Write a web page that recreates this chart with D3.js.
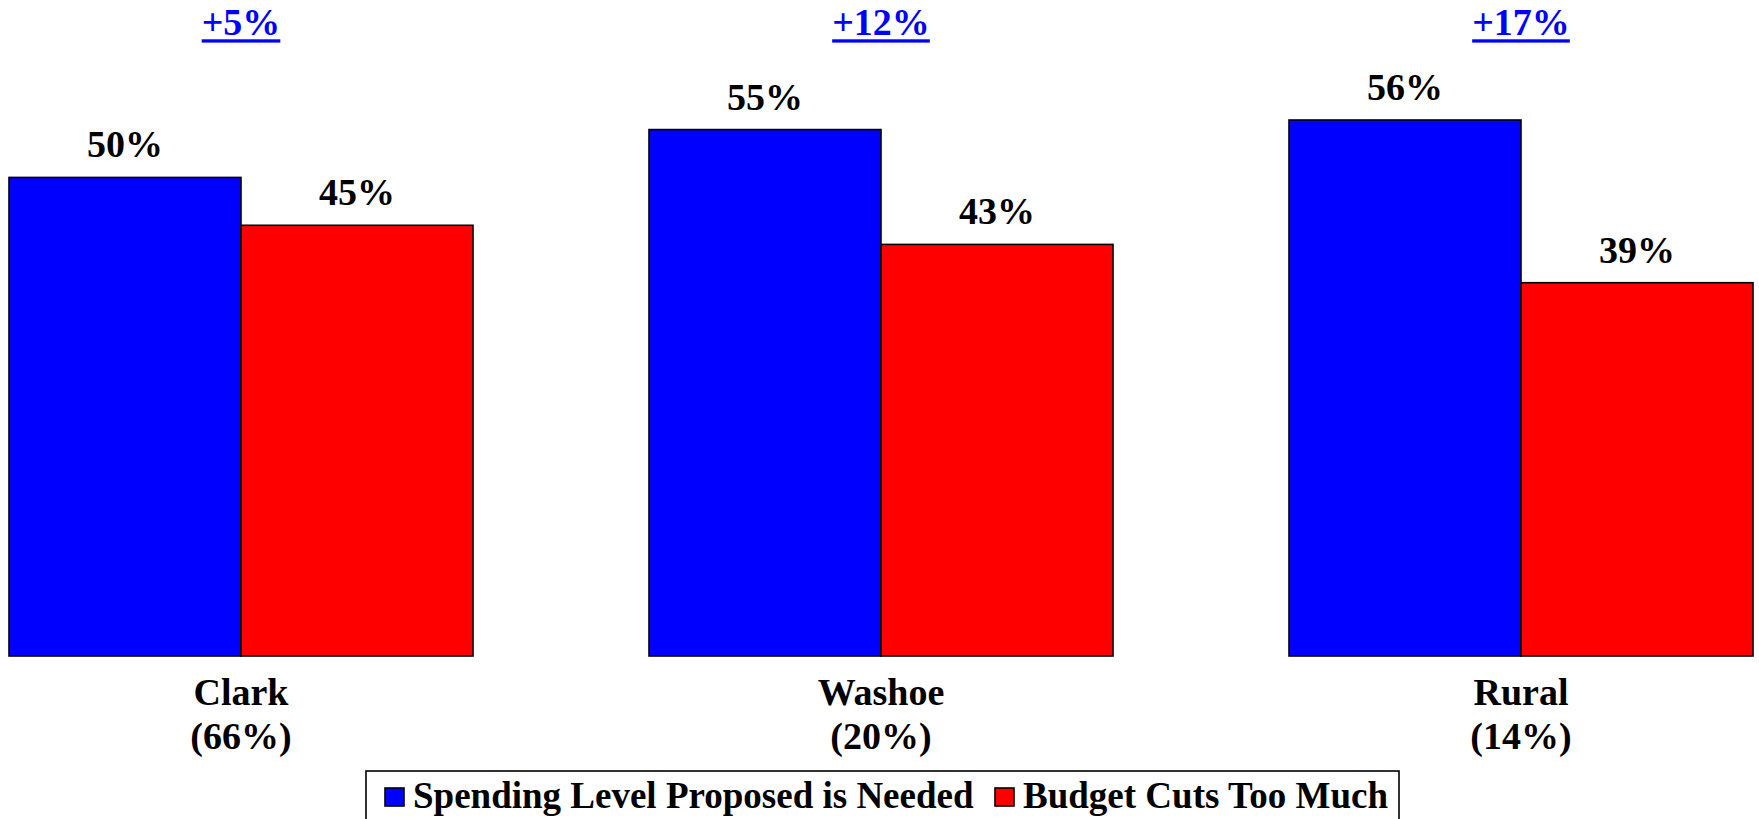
<!DOCTYPE html>
<html>
<head>
<meta charset="utf-8">
<script src="https://cdn.jsdelivr.net/npm/d3@7"></script>
<style>
  body { margin: 0; background: #fff; }
  text { font-family: "Liberation Serif", "Times New Roman", serif; font-weight: bold; }
</style>
</head>
<body>
<div id="chart"></div>
<script>
// data
var regions = ["Clark", "Washoe", "Rural"];
var regionShare = ["(66%)", "(20%)", "(14%)"];
var seriesNames = ["Spending Level Proposed is Needed", "Budget Cuts Too Much"];
var spendingNeeded = [50, 55, 56];
var budgetCuts = [45, 43, 39];
var colors = ["#0000ff", "#ff0000"];

const width = 1759;
const height = 819;
const baseline = 656;
const fontSize = 38;

const rows = regions.map((r, i) => ({
    region: r,
    share: regionShare[i],
    values: [spendingNeeded[i], budgetCuts[i]]
}));

const x0 = d3.scaleBand()
    .domain(regions)
    .range([9, 1753])
    .paddingInner(0.275);

const x1 = d3.scaleBand()
    .domain(d3.range(seriesNames.length))
    .range([0, x0.bandwidth()]);

const y = d3.scaleLinear()
    .domain([0, 70])
    .range([baseline, -14]);

const svg = d3.select("#chart").append("svg")
    .attr("width", width)
    .attr("height", height)
    .attr("viewBox", [0, 0, width, height]);

const group = svg.selectAll("g.region")
    .data(rows)
    .join("g")
    .attr("class", "region")
    .attr("transform", d => `translate(${x0(d.region)},0)`);

group.selectAll("rect")
    .data(d => d.values)
    .join("rect")
    .attr("x", (d, i) => x1(i))
    .attr("y", d => y(d))
    .attr("width", x1.bandwidth())
    .attr("height", d => y(0) - y(d))
    .attr("fill", (d, i) => colors[i])
    .attr("stroke", "#000")
    .attr("stroke-width", 1.6);

// value labels
group.selectAll("text.val")
    .data(d => d.values)
    .join("text")
    .attr("class", "val")
    .attr("x", (d, i) => x1(i) + x1.bandwidth() / 2)
    .attr("y", d => y(d) - 20)
    .attr("text-anchor", "middle")
    .attr("font-size", fontSize)
    .text(d => d + "%");

// gap between the two answers, blue and underlined
const diff = group.append("text")
    .attr("x", x0.bandwidth() / 2)
    .attr("y", 35)
    .attr("text-anchor", "middle")
    .attr("font-size", fontSize)
    .attr("fill", "#0000ff")
    .text(d => "+" + (d.values[0] - d.values[1]) + "%");

diff.each(function () {
    const w = this.getComputedTextLength();
    d3.select(this.parentNode).append("rect")
        .attr("x", x0.bandwidth() / 2 - w / 2)
        .attr("y", 39.3)
        .attr("width", w)
        .attr("height", 3.3)
        .attr("fill", "#0000ff");
});

// category labels
group.append("text")
    .attr("x", x0.bandwidth() / 2)
    .attr("y", 705)
    .attr("text-anchor", "middle")
    .attr("font-size", fontSize)
    .text(d => d.region);

group.append("text")
    .attr("x", x0.bandwidth() / 2)
    .attr("y", 749)
    .attr("text-anchor", "middle")
    .attr("font-size", fontSize)
    .text(d => d.share);

// legend
const legend = svg.append("g");
legend.append("rect")
    .attr("x", 366)
    .attr("y", 771)
    .attr("width", 1033)
    .attr("height", 70)
    .attr("fill", "#fff")
    .attr("stroke", "#000")
    .attr("stroke-width", 1.6);

const legendX = [385, 995];
const item = legend.selectAll("g.item")
    .data(seriesNames)
    .join("g")
    .attr("class", "item")
    .attr("transform", (d, i) => `translate(${legendX[i]},788)`);

item.append("rect")
    .attr("width", 19)
    .attr("height", 18)
    .attr("fill", (d, i) => colors[i])
    .attr("stroke", "#000")
    .attr("stroke-width", 1.6);

item.append("text")
    .attr("x", 28)
    .attr("y", 20)
    .attr("font-size", 37)
    .text(d => d);
</script>
</body>
</html>
